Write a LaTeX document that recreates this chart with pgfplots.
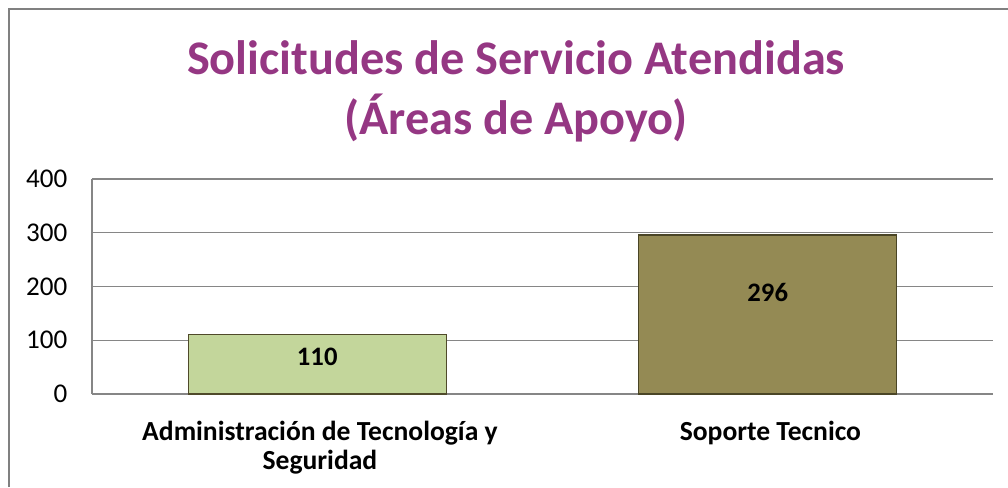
\documentclass[border=0pt]{standalone}
\usepackage{pgfplots}
\pgfplotsset{compat=1.18}
\usepackage{fontspec}
\setmainfont{Carlito}
\definecolor{titlepurple}{RGB}{149,55,131}
\definecolor{barA}{RGB}{195,214,155}
\definecolor{barAedge}{RGB}{79,74,42}
\definecolor{barB}{RGB}{148,138,84}
\definecolor{barBedge}{RGB}{74,69,38}
\definecolor{gridgray}{RGB}{134,134,134}
\definecolor{framegray}{RGB}{128,128,128}
\begin{document}
\begin{tikzpicture}
\path[use as bounding box] (0,0) rectangle (756pt,365.25pt);
% frame: pixel coords (x, y from top) -> (0.75x pt, 0.75(487-y) pt)
\draw[framegray, line width=1.6pt] (6.75pt,0pt) -- (6.75pt,358.5pt) -- (756pt,358.5pt);
\node[titlepurple, font=\fontsize{36.2}{45}\selectfont\bfseries, align=center] at (387pt,297pt)
  {Solicitudes de Servicio Atendidas\\(Áreas de Apoyo)};
\begin{axis}[
  at={(69pt,69.75pt)}, anchor=south west,
  scale only axis, width=675.75pt, height=161.25pt,
  xmin=-0.5, xmax=1.5, ymin=0, ymax=400,
  ytick={0,100,200,300,400},
  xtick={0,1},
  xticklabels={{Administración de Tecnología y\\Seguridad},{Soporte Tecnico}},
  xticklabel style={align=center, font=\fontsize{20.7}{21.75}\selectfont\bfseries, yshift=-16.5pt, xshift=2pt},
  yticklabel style={font=\fontsize{20.3}{22}\selectfont, xshift=-15pt},
  /pgf/number format/assume math mode=true,
  major tick length=0pt,
  ymajorgrids, grid style={gridgray, line width=0.9pt},
  axis line style={gridgray, line width=0.9pt},
  axis x line*=bottom, axis y line*=left,
  ybar, bar width=0.573, bar shift=0pt,
  clip=false,
]
\addplot[fill=barA, draw=barAedge, line width=0.9pt] coordinates {(0,110)};
\addplot[fill=barB, draw=barBedge, line width=0.9pt] coordinates {(1,296)};
\addplot[draw=none, mark=none, only marks, nodes near coords, point meta=explicit symbolic,
  nodes near coords style={font=\fontsize{20}{22}\selectfont\bfseries, anchor=center, black}]
  coordinates {(0,69)[110] (1,188)[296]};
\end{axis}
\end{tikzpicture}
\end{document}
